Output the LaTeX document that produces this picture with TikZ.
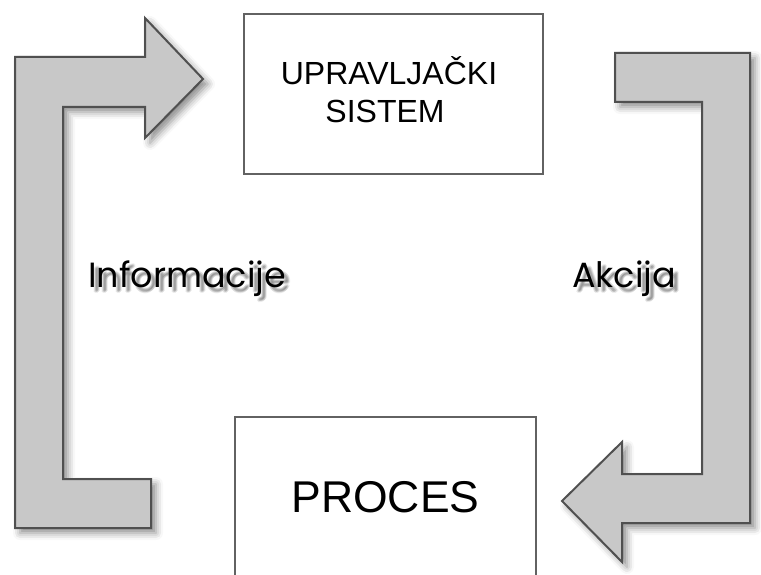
\documentclass[tikz,border=0pt]{standalone}
\usepackage{fontspec}
\setmainfont{Liberation Sans}
\newfontfamily\geofont{Poppins}
\usetikzlibrary{shadows.blur,calc}
\definecolor{arrowfill}{HTML}{C8C8C8}
\definecolor{arrowline}{HTML}{505050}
\definecolor{boxline}{HTML}{626262}
\tikzset{
  blockarrow/.style={fill=arrowfill, draw=arrowline, line width=2pt, line join=miter,
    blur shadow={shadow xshift=5pt, shadow yshift=-5pt, shadow blur radius=7pt, shadow opacity=45}},
  boxframe/.style={draw=boxline, line width=2pt, fill=white, inner sep=0pt, outer sep=0pt},
  boxtext/.style={anchor=base, inner sep=0pt, text=black},
  lbl/.style={anchor=base west, inner sep=0pt, font=\geofont\fontsize{35}{40}\selectfont},
}
\newcommand{\shadowlabel}[3]{%
  \foreach \dx/\dy/\op in {4/4/0.10, 5/5/0.10, 3/5/0.08, 5/3/0.08, 4/6/0.07, 6/4/0.07} {
    \node[lbl, text=black, opacity=\op] at ($(#2)+(\dx,\dy)$) {#3};
  }
  \node[lbl, text=black] (#1) at (#2) {#3};
}
\begin{document}
\begin{tikzpicture}[x=1pt,y=-1pt]
\useasboundingbox (0,0) rectangle (761,575);
\clip (0,0) rectangle (761,575);

% boxes
\node[boxframe, minimum width=299pt, minimum height=160pt] (ctrl) at (393.5,94) {};
\node[boxframe, minimum width=301pt, minimum height=180pt] (proc) at (385.5,507) {};

\node[boxtext, font=\fontsize{32}{38}\selectfont] (ctrl1) at (389,85) {UPRAVLJAČKI};
\node[boxtext, font=\fontsize{32}{38}\selectfont] (ctrl2) at (385,123) {SISTEM};
\node[boxtext, font=\fontsize{44.5}{50}\selectfont] (proctext) at (385.5,512) {PROCES};

% left block arrow (Informacije)
\draw[blockarrow] (15,528) -- (15,57) -- (145,57) -- (145,18) -- (203,79) -- (145,138)
  -- (145,107) -- (63,107) -- (63,479) -- (151,479) -- (151,528) -- cycle;

% right block arrow (Akcija)
\draw[blockarrow] (615,53) -- (750,53) -- (750,523) -- (622,523) -- (622,562) -- (562,501)
  -- (622,442) -- (622,474) -- (702,474) -- (702,102) -- (615,102) -- cycle;

\coordinate (infopos) at (88,287);
\coordinate (akpos) at (572,287);
\shadowlabel{info}{infopos}{Informacije}
\shadowlabel{akcija}{akpos}{Akcija}
\end{tikzpicture}
\end{document}
